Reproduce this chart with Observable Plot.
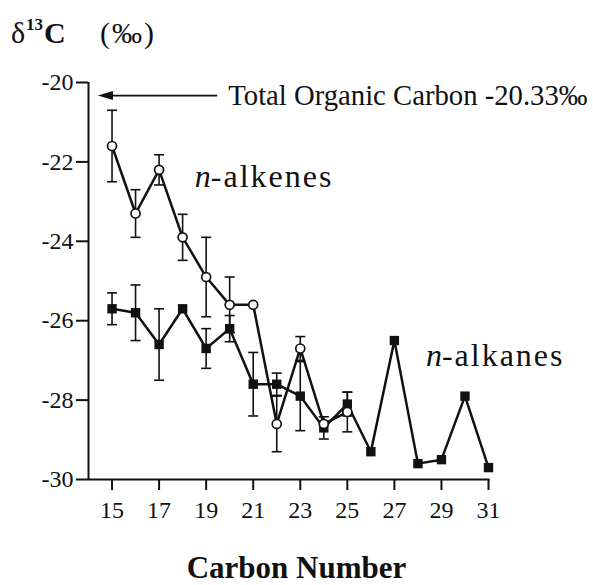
<!DOCTYPE html>
<html>
<head>
<meta charset="utf-8">
<script src="https://cdn.jsdelivr.net/npm/d3@7"></script>
<script src="https://cdn.jsdelivr.net/npm/@observablehq/plot@0.6"></script>
<style>
  html, body { margin: 0; padding: 0; background: #fff; }
  #wrap { position: relative; width: 593px; height: 585px; font-family: "Liberation Serif", "DejaVu Serif", serif; color: #111; }
  #wrap svg { position: absolute; left: 0; top: 0; }
  #wrap svg text { font-family: "Liberation Serif", "DejaVu Serif", serif; }
  .t { position: absolute; line-height: 30px; white-space: nowrap; font-family: "Liberation Serif", "DejaVu Serif", serif; }
</style>
</head>
<body>
<div id="wrap">
  <div class="t" style="left:11px; top:18px; font-size:30px;">δ</div>
  <div class="t" style="left:26px; top:10px; font-size:17px; font-weight:bold;">13</div>
  <div class="t" style="left:44px; top:18px; font-size:30px; font-weight:bold;">C</div>
  <div class="t" style="left:100px; top:18px; font-size:30px; letter-spacing:2px;">(‰)</div>
</div>
<script>
// Carbon numbers
const alkeneCarbon = [15, 16, 17, 18, 19, 20, 21, 22, 23, 24, 25];
const alkaneCarbon = [15, 16, 17, 18, 19, 20, 21, 22, 23, 24, 25, 26, 27, 28, 29, 30, 31];
// δ13C values (‰)
const alkeneD13C = [-21.6, -23.3, -22.2, -23.9, -24.9, -25.6, -25.6, -28.6, -26.7, -28.6, -28.3];
const alkeneErr  = [0.9, 0.6, 0.38, 0.58, 1.0, 0.7, null, 0.7, 0.3, null, 0.5];
const alkaneD13C = [-25.7, -25.8, -26.6, -25.7, -26.7, -26.2, -27.6, -27.6, -27.9, -28.7, -28.1, -29.3, -26.5, -29.6, -29.5, -27.9, -29.7];
const alkaneErr  = [0.4, 0.7, 0.9, null, 0.5, 0.33, 0.8, 0.28, 0.87, 0.28, 0.3, null, null, null, null, null, null];
// Total organic carbon
const tocValue = -20.33;
const tocLabel = "Total Organic Carbon -20.33‰";
// Axes
const xTicks = [15, 17, 19, 21, 23, 25, 27, 29, 31];
const yTicks = [-20, -22, -24, -26, -28, -30];
const xDomain = [14, 31];
const yDomain = [-30, -20];
const seriesLabels = ["n", "-alkenes", "n", "-alkanes"];
const xLabel = "Carbon Number";

const alkenes = alkeneCarbon.map((c, i) => ({c, v: alkeneD13C[i], e: alkeneErr[i]}));
const alkanes = alkaneCarbon.map((c, i) => ({c, v: alkaneD13C[i], e: alkaneErr[i]}));
const errs = [...alkanes, ...alkenes].filter(d => d.e != null);

const capSymbol = {draw(ctx) { ctx.moveTo(-5, 0); ctx.lineTo(5, 0); }};
const headSymbol = {draw(ctx) { ctx.moveTo(0, 0); ctx.lineTo(15, -4.5); ctx.lineTo(15, 4.5); ctx.closePath(); }};

const ink = "#111";
const serif = "'Liberation Serif', 'DejaVu Serif', serif";

const chart = Plot.plot({
  width: 593,
  height: 585,
  marginLeft: 88,
  marginRight: 105,
  marginTop: 82,
  marginBottom: 106,
  style: {fontFamily: serif, background: "transparent", color: ink, overflow: "visible"},
  x: {domain: xDomain},
  y: {domain: yDomain},
  marks: [
    Plot.ruleX([xDomain[0]], {y1: yDomain[0], y2: yDomain[1], stroke: ink, strokeWidth: 2}),
    Plot.ruleY([yDomain[0]], {x1: xDomain[0], x2: 31.07, stroke: ink, strokeWidth: 2}),
    Plot.axisX({ticks: xTicks, tickSize: 11, tickPadding: 10, fontSize: 24, fontFamily: serif, strokeWidth: 2, label: null}),
    Plot.axisY({ticks: yTicks, tickSize: 12, tickPadding: 3, fontSize: 24, fontFamily: serif, strokeWidth: 2, label: null, tickFormat: d => `${d}`}),
    // error bars
    Plot.ruleX(errs, {x: "c", y1: d => d.v - d.e, y2: d => d.v + d.e, stroke: ink, strokeWidth: 1.6}),
    Plot.dot(errs, {x: "c", y: d => d.v + d.e, symbol: capSymbol, r: 5, stroke: ink, strokeWidth: 1.6, fill: "none"}),
    Plot.dot(errs, {x: "c", y: d => d.v - d.e, symbol: capSymbol, r: 5, stroke: ink, strokeWidth: 1.6, fill: "none"}),
    // series lines
    Plot.line(alkanes, {x: "c", y: "v", stroke: ink, strokeWidth: 2.5}),
    Plot.line(alkenes, {x: "c", y: "v", stroke: ink, strokeWidth: 2.5}),
    // markers
    Plot.dot(alkanes, {x: "c", y: "v", symbol: "square", r: 5.3, fill: ink, stroke: "none"}),
    Plot.dot(alkenes, {x: "c", y: "v", r: 4.5, fill: "white", stroke: ink, strokeWidth: 1.7}),
    // TOC arrow
    Plot.link([tocValue], {x1: 14.9, x2: 19.47, y1: d => d, y2: d => d, stroke: ink, strokeWidth: 1.8}),
    Plot.dot([tocValue], {x: 14.4, y: d => d, symbol: headSymbol, r: 5, fill: ink, stroke: "none"}),
    Plot.text([tocLabel], {x: 19.94, y: tocValue, text: d => d, textAnchor: "start", lineAnchor: "middle", fontSize: 28.7, fontFamily: serif, fill: ink}),
    // series labels
    Plot.text([seriesLabels[0]], {x: 19.2, y: -22.64, text: d => d, textAnchor: "end", lineAnchor: "bottom", fontSize: 32, fontStyle: "italic", fontFamily: serif, fill: ink}),
    Plot.text([seriesLabels[1]], {x: 19.2, y: -22.64, text: d => d, textAnchor: "start", lineAnchor: "bottom", fontSize: 32, fontFamily: serif, fill: ink}),
    Plot.text([seriesLabels[2]], {x: 29.02, y: -27.13, text: d => d, textAnchor: "end", lineAnchor: "bottom", fontSize: 32, fontStyle: "italic", fontFamily: serif, fill: ink}),
    Plot.text([seriesLabels[3]], {x: 29.02, y: -27.13, text: d => d, textAnchor: "start", lineAnchor: "bottom", fontSize: 32, fontFamily: serif, fill: ink}),
    // x label
    Plot.text([xLabel], {frameAnchor: "bottom", dx: 8, dy: 98, text: d => d, lineAnchor: "bottom", fontSize: 31, fontWeight: "bold", fontFamily: serif, fill: ink})
  ]
});
// widen the series labels slightly, as in the reference typeface
d3.select(chart).selectAll("text").filter(function() {
  const s = this.textContent; return s === seriesLabels[1] || s === seriesLabels[3];
}).style("letter-spacing", "2px");
document.getElementById("wrap").prepend(chart);
</script>
</body>
</html>
